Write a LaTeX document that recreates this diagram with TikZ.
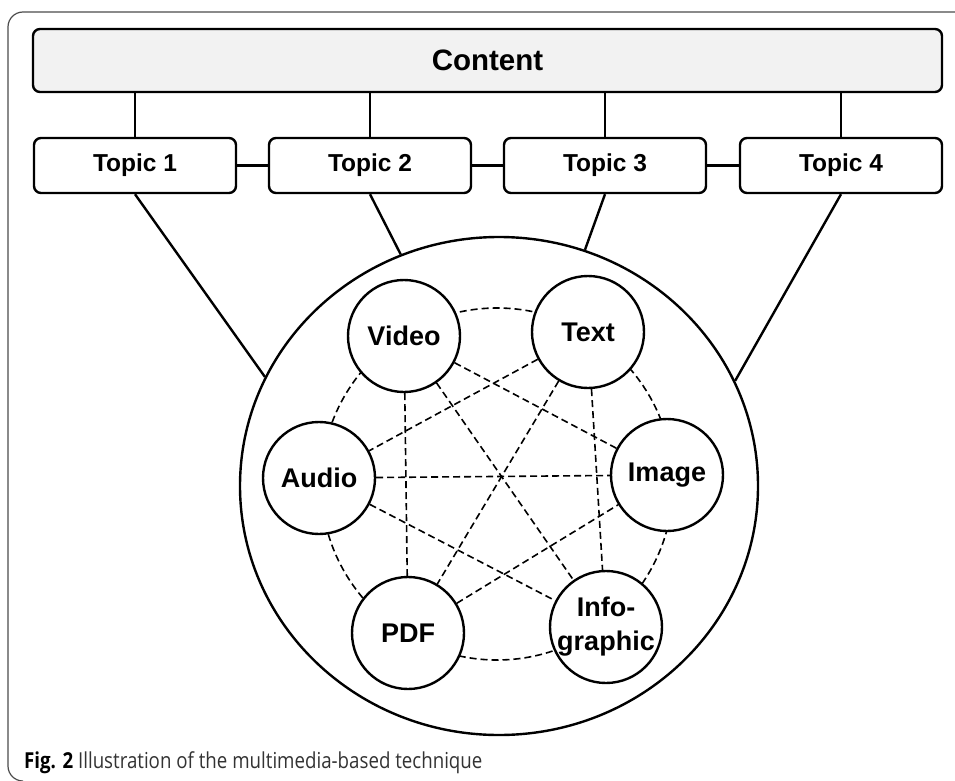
\documentclass[tikz,border=0pt]{standalone}
\usepackage{fontspec}
\setmainfont{Liberation Sans}
\newfontfamily\capfont[FakeStretch=0.85]{Open Sans}
\usetikzlibrary{shapes.geometric}
\begin{document}
\begin{tikzpicture}[x=1pt,y=-1pt,
  box/.style={draw,line width=2.4pt,rounded corners=7pt,minimum width=202pt,minimum height=55pt,inner sep=0pt,font=\bfseries\fontsize{24.5}{28}\selectfont},
  medium/.style={draw,circle,line width=2.4pt,fill=white,minimum size=112pt,inner sep=0pt,font=\bfseries\fontsize{27}{34}\selectfont},
  link/.style={line width=2.4pt},
  chord/.style={line width=1.6pt,dash pattern=on 7pt off 4pt}]
\useasboundingbox (0,0) rectangle (955,781);
\draw[black!70,line width=1.2pt,rounded corners=15pt] (955,12) -- (8,12) -- (8,781) -- (23,781);
\node[box,fill=black!5,minimum width=909pt,minimum height=63pt,font=\bfseries\fontsize{29.5}{34}\selectfont] (content) at (487.5,60.5) {Content};
\foreach \i/\x in {1/135,2/370,3/605,4/841} {
  \node[box] (t\i) at (\x,165.5) {Topic \i};
  \draw[link] (t\i.north) -- (t\i.north |- content.south);
}
\foreach \a/\b in {1/2,2/3,3/4} \draw[link] (t\a) -- (t\b);
\node[draw,ellipse,line width=2.4pt,minimum width=518pt,minimum height=498pt,inner sep=0pt] (hub) at (499,486) {};
\draw[link] (t1.south) -- (hub.155.8);
\draw[link] (t2.south) -- (hub.113.6);
\draw[link] (t3.south) -- (hub.70.8);
\draw[link] (t4.south) -- (hub.24.4);
% dashed ring under the media circles
\draw[chord] (497,484) circle[radius=176];
\node[medium] (video) at (404,336) {Video};
\node[medium] (text) at (588,332) {Text};
\node[medium] (audio) at (319,478) {Audio};
\node[medium] (image) at (667,475) {Image};
\node[medium] (pdf) at (408,633) {PDF};
\node[medium,label={[align=center,font=\bfseries\fontsize{27}{34}\selectfont]center:Info-\\graphic}] (info) at (606,627) {};
\foreach \a/\b in {video/image,video/info,video/pdf,text/audio,text/pdf,text/info,audio/image,audio/info,pdf/image}
  \draw[chord] (\a) -- (\b);
\node[anchor=base west,inner sep=0pt,font=\capfont\fontsize{22}{26}\selectfont,text=black!80] (caption) at (24,768) {\textcolor{black}{\textbf{Fig. 2}} Illustration of the multimedia-based technique};
\end{tikzpicture}
\end{document}
